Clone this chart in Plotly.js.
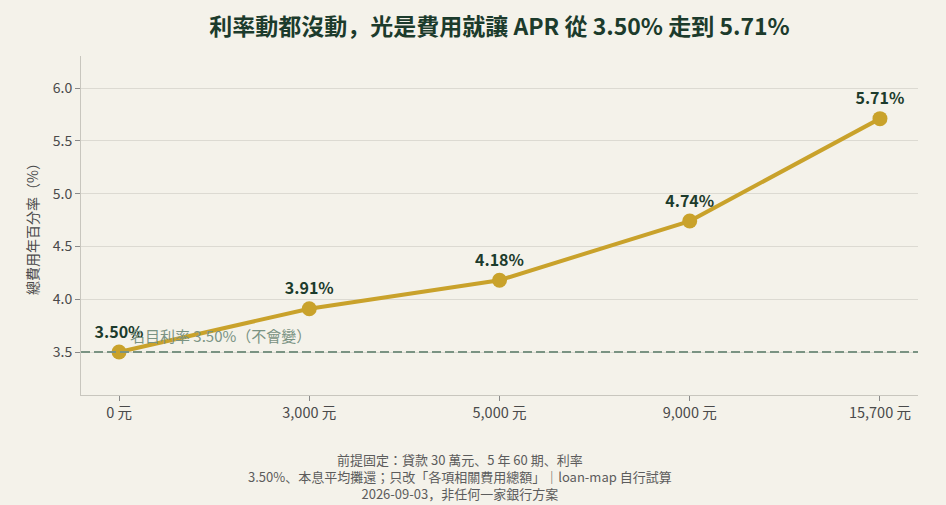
<!DOCTYPE html>
<html>
<head>
<meta charset="utf-8">
<script src="https://cdn.plot.ly/plotly-3.0.1.min.js"></script>
<style>
  html, body { margin: 0; padding: 0; background: #f4f2ea; }
  #chart { width: 946px; height: 505px; }
</style>
</head>
<body>
<div id="chart"></div>
<script>
const feeLabels = ["0 元", "3,000 元", "5,000 元", "9,000 元", "15,700 元"];
const aprValues = [3.5, 3.91, 4.18, 4.74, 5.71];
const aprText = ["3.50%", "3.91%", "4.18%", "4.74%", "5.71%"];
const nominalRate = 3.5;
const footLines = [
  "前提固定：貸款 30 萬元、5 年 60 期、利率",
  "3.50%、本息平均攤還；只改「各項相關費用總額」｜loan-map 自行試算",
  "2026-09-03，非任何一家銀行方案",
];

const gold = "#c9a22b",
  ink = "#1c3b2c",
  sage = "#7a9383",
  grey = "#4a4a4a";
const font = "'Noto Sans CJK JP', 'Noto Sans', sans-serif";

const traces = [
  {
    x: feeLabels,
    y: aprValues,
    text: aprText,
    type: "scatter",
    mode: "lines+markers+text",
    textposition: "top center",
    textfont: { family: font, size: 16, color: ink, weight: 700 },
    line: { color: gold, width: 4 },
    marker: { color: gold, size: 15 },
    cliponaxis: false,
    hoverinfo: "skip",
  },
];

const layout = {
  width: 946,
  height: 505,
  margin: { t: 56, b: 110, l: 81, r: 28 },
  paper_bgcolor: "#f4f2ea",
  plot_bgcolor: "#f4f2ea",
  font: { family: font, size: 14, color: grey },
  showlegend: false,
  title: {
    text: "利率動都沒動，光是費用就讓 APR 從 3.50% 走到 5.71%",
    font: { family: font, size: 23, color: ink, weight: 700 },
    x: 0.5,
    xref: "paper",
    xanchor: "center",
    y: 1 - 27 / 505,
    yref: "container",
    yanchor: "middle",
  },
  xaxis: {
    type: "category",
    range: [-0.2, 4.2],
    showgrid: false,
    showline: true,
    linecolor: "#c8c6be",
    linewidth: 1,
    ticks: "outside",
    ticklen: 5,
    tickcolor: "#8a8a8a",
    tickfont: { size: 14.5, color: grey },
    zeroline: false,
  },
  yaxis: {
    range: [3.093, 6.303],
    dtick: 0.5,
    tick0: 3.5,
    tickformat: ".1f",
    gridcolor: "#dcdad2",
    showline: true,
    linecolor: "#c8c6be",
    linewidth: 1,
    ticks: "outside",
    ticklen: 5,
    tickcolor: "#8a8a8a",
    tickfont: { size: 14, color: grey },
    zeroline: false,
    title: {
      text: "總費用年百分率（%）",
      font: { size: 14, color: grey },
      standoff: 10,
    },
  },
  shapes: [
    {
      type: "line",
      xref: "paper",
      x0: 0,
      x1: 1,
      yref: "y",
      y0: nominalRate,
      y1: nominalRate,
      line: { color: sage, width: 2, dash: "9px,4px" },
    },
  ],
  annotations: [
    {
      text: "名目利率 3.50%（不會變）",
      xref: "x",
      x: 0.531,
      yref: "y",
      y: nominalRate,
      yanchor: "bottom",
      yshift: 4,
      showarrow: false,
      font: { size: 15, color: sage },
    },
    {
      text: footLines.join("<br>"),
      xref: "paper",
      x: (459.5 - 81) / 837,
      xanchor: "center",
      yref: "paper",
      y: (395 - 476) / 339,
      yanchor: "middle",
      align: "center",
      showarrow: false,
      font: { size: 13, color: "#5c5c5c" },
    },
  ],
};

Plotly.newPlot("chart", traces, layout, { displayModeBar: false, responsive: false });
</script>
</body>
</html>
